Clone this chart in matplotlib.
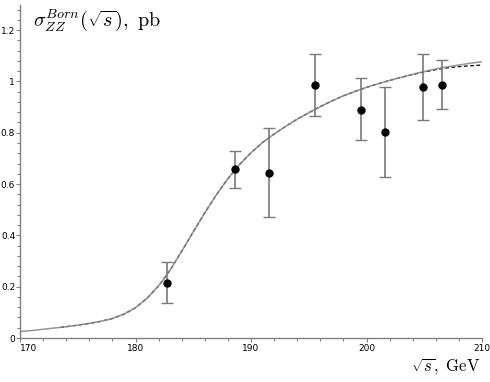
import matplotlib
matplotlib.use("Agg")
import matplotlib.pyplot as plt
from matplotlib.ticker import MultipleLocator, FixedLocator

plt.rcParams['mathtext.fontset'] = 'cm'

# Theory curve (solid grey)
curve_x = [170, 171, 172, 173, 174, 175, 176, 177, 178, 179, 180, 181, 182, 183, 184,
           185, 186, 187, 188, 189, 190, 191, 192, 193, 194, 195, 196, 197, 198, 199,
           200, 201, 202, 203, 204, 205, 206, 207, 208, 209, 210]
curve_y = [0.025, 0.029, 0.034, 0.039, 0.044, 0.050, 0.057, 0.065, 0.076, 0.093, 0.118,
           0.155, 0.203, 0.265, 0.338, 0.414, 0.488, 0.558, 0.621, 0.676, 0.722, 0.762,
           0.795, 0.825, 0.853, 0.878, 0.902, 0.924, 0.944, 0.961, 0.977, 0.991, 1.004,
           1.016, 1.028, 1.039, 1.049, 1.057, 1.064, 1.071, 1.077]

# Second curve (dashed black)
dash_x = [173.5, 175, 176, 177, 178, 179, 180, 181, 182, 183, 184, 185, 186, 187, 188,
          189, 190, 191, 192, 193, 194, 195, 196, 197, 198, 199, 200, 201, 202, 203,
          204, 205, 206, 207, 208, 209, 210]
dash_y = [0.041, 0.050, 0.057, 0.065, 0.076, 0.093, 0.118, 0.155, 0.203, 0.265, 0.338,
          0.414, 0.488, 0.558, 0.621, 0.676, 0.722, 0.762, 0.795, 0.825, 0.853, 0.878,
          0.902, 0.924, 0.944, 0.961, 0.977, 0.991, 1.004, 1.016, 1.027, 1.037, 1.046,
          1.053, 1.058, 1.061, 1.064]

# LEP data points
data_x = [182.7, 188.6, 191.6, 195.5, 199.5, 201.6, 204.9, 206.5]
data_y = [0.213, 0.658, 0.644, 0.985, 0.889, 0.804, 0.980, 0.988]
err_lo = [0.078, 0.074, 0.174, 0.119, 0.118, 0.175, 0.130, 0.096]
err_hi = [0.084, 0.071, 0.176, 0.121, 0.126, 0.176, 0.128, 0.095]

x_ticks = [170, 180, 190, 200, 210]
x_labels = ['170', '180', '190', '200', '210']
y_ticks = [0, 0.2, 0.4, 0.6, 0.8, 1.0, 1.2]
y_labels = ['0', '0.2', '0.4', '0.6', '0.8', '1', '1.2']

fig = plt.figure(figsize=(4.9, 3.82), dpi=100)
ax = fig.add_axes([20/490, 44/382, 462/490, 333/382])

ax.plot(dash_x, dash_y, color='black', lw=0.9, ls=(0, (3, 2)), zorder=2)
ax.plot(curve_x, curve_y, color='#8a8a8a', lw=1.1, zorder=3, alpha=0.9)

eb = ax.errorbar(data_x, data_y, yerr=[err_lo, err_hi], fmt='none', ecolor='#7a7a7a',
                 elinewidth=1.2, capsize=4, capthick=1.0, zorder=4)
for cap in eb[1]:
    cap.set_color('#333333')
ax.plot(data_x, data_y, 'o', color='black', ms=5, zorder=5)

ax.set_xlim(170, 210)
ax.set_ylim(0, 1.298)

for s in ['top', 'right']:
    ax.spines[s].set_visible(False)
for s in ['left', 'bottom']:
    ax.spines[s].set_color('#808080')
    ax.spines[s].set_linewidth(1.0)

ax.xaxis.set_major_locator(FixedLocator(x_ticks))
ax.set_xticklabels(x_labels)
ax.xaxis.set_minor_locator(MultipleLocator(2))
ax.yaxis.set_major_locator(FixedLocator(y_ticks))
ax.set_yticklabels(y_labels)
ax.yaxis.set_minor_locator(MultipleLocator(0.04))
ax.tick_params(axis='both', which='major', length=3, width=0.8, color='#808080',
               labelsize=6.5, pad=1.5, direction='out')
ax.tick_params(axis='both', which='minor', length=2, width=0.8, color='#808080',
               direction='out')
ax.tick_params(axis='y', pad=0.5)
for lab in ax.get_xticklabels():
    if lab.get_text() == '170':
        lab.set_ha('left')

fig.text(33/490, 1 - 20/382, r'$\sigma_{ZZ}^{Born}(\sqrt{s}),\ \mathrm{pb}$',
         fontsize=14.5, ha='left', va='center')
fig.text(481/490, 1 - 366/382, r'$\sqrt{s},\ \mathrm{GeV}$',
         fontsize=12, ha='right', va='center')

fig.savefig('out.png', dpi=100)
